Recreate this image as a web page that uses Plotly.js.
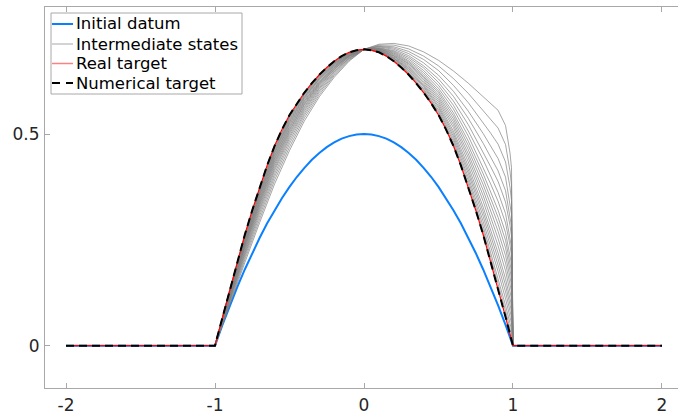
<!DOCTYPE html>
<html><head><meta charset="utf-8">
<script src="https://cdn.plot.ly/plotly-3.0.1.min.js"></script>
<style>html,body{margin:0;padding:0;overflow:hidden;background:#fff}#plot{width:690px;height:417px}</style>
</head><body><div id="plot"></div>
<script>
// ---- data ----
const xTicks = [-2, -1, 0, 1, 2];
const yTicks = [0, 0.5];
const legendNames = ['Initial datum', 'Intermediate states', 'Real target', 'Numerical target'];

const initialX = [-2, -1, -0.95, -0.9, -0.85, -0.8, -0.75, -0.7, -0.65, -0.6, -0.55, -0.5, -0.45, -0.4, -0.35, -0.3, -0.25, -0.2, -0.15, -0.1, -0.05, 0,
  0.05, 0.1, 0.15, 0.2, 0.25, 0.3, 0.35, 0.4, 0.45, 0.5, 0.55, 0.6, 0.65, 0.7, 0.75, 0.8, 0.85, 0.9, 0.95, 1, 2];
const initialY = [0, 0, 0.049, 0.095, 0.139, 0.18, 0.219, 0.255, 0.289, 0.32, 0.349, 0.375, 0.399, 0.42, 0.439, 0.455, 0.469, 0.48, 0.489, 0.495, 0.499, 0.5,
  0.499, 0.495, 0.489, 0.48, 0.469, 0.455, 0.439, 0.42, 0.399, 0.375, 0.349, 0.32, 0.289, 0.255, 0.219, 0.18, 0.139, 0.095, 0.049, 0, 0];

const targetX = [-2, -1, -0.99, -0.98, -0.95, -0.9, -0.85, -0.8, -0.75, -0.7, -0.65, -0.6, -0.55, -0.5, -0.45, -0.4, -0.35, -0.3, -0.25, -0.2, -0.15, -0.1, -0.05, 0,
  0.05, 0.1, 0.15, 0.2, 0.25, 0.3, 0.35, 0.4, 0.45, 0.5, 0.55, 0.6, 0.65, 0.7, 0.75, 0.8, 0.85, 0.9, 0.95, 0.98, 0.99, 1, 2];
const realTargetY = [0, 0, 0.014, 0.027, 0.068, 0.135, 0.199, 0.262, 0.320, 0.375, 0.426, 0.472, 0.511, 0.545, 0.573, 0.598, 0.620, 0.640, 0.657, 0.672, 0.684, 0.693, 0.698, 0.700,
  0.698, 0.693, 0.684, 0.672, 0.657, 0.640, 0.620, 0.598, 0.573, 0.545, 0.511, 0.472, 0.426, 0.375, 0.320, 0.262, 0.199, 0.135, 0.068, 0.027, 0.014, 0, 0];
const numericalTargetY = [0, 0, 0.014, 0.027, 0.068, 0.135, 0.199, 0.262, 0.320, 0.375, 0.426, 0.472, 0.511, 0.545, 0.573, 0.598, 0.620, 0.640, 0.657, 0.672, 0.684, 0.693, 0.698, 0.700,
  0.698, 0.693, 0.684, 0.672, 0.657, 0.640, 0.620, 0.598, 0.573, 0.545, 0.511, 0.472, 0.426, 0.375, 0.320, 0.262, 0.199, 0.135, 0.068, 0.027, 0.014, 0, 0];

const stateX = [-1, -0.95, -0.9, -0.8, -0.7, -0.6, -0.5, -0.4, -0.3, -0.2, -0.1, 0, 0.1, 0.2, 0.3, 0.4, 0.5, 0.6, 0.7, 0.8, 0.85, 0.9, 0.95, 0.98, 0.99, 1];
const intermediateY = [
  [0,.050,.097,.196,.291,.382,.461,.531,.588,.634,.672,.700,.712,.714,.708,.694,.674,.649,.620,.589,.573,.556,.520,.455,.420,0],
  [0,.052,.101,.203,.299,.391,.469,.538,.593,.638,.674,.700,.710,.710,.701,.684,.661,.631,.596,.556,.536,.514,.475,.412,.379,0],
  [0,.053,.104,.209,.307,.399,.477,.544,.598,.641,.676,.700,.708,.706,.695,.676,.650,.615,.574,.527,.502,.476,.434,.374,.343,0],
  [0,.055,.107,.214,.314,.406,.484,.549,.602,.644,.678,.700,.707,.703,.690,.668,.639,.601,.554,.501,.472,.442,.398,.339,.310,0],
  [0,.056,.110,.218,.320,.413,.490,.554,.606,.647,.679,.700,.706,.700,.685,.661,.630,.589,.537,.478,.446,.413,.366,.310,.282,0],
  [0,.057,.112,.222,.325,.418,.495,.558,.609,.649,.680,.700,.704,.697,.681,.656,.622,.578,.522,.458,.423,.388,.339,.284,.258,0],
  [0,.058,.115,.226,.330,.423,.500,.562,.612,.652,.682,.700,.703,.695,.677,.650,.615,.568,.507,.439,.401,.362,.312,.258,.233,0],
  [0,.059,.116,.230,.334,.428,.504,.565,.615,.653,.683,.700,.702,.693,.673,.645,.608,.559,.495,.422,.382,.341,.290,.237,.213,0],
  [0,.060,.118,.233,.338,.432,.508,.569,.617,.655,.684,.700,.701,.691,.670,.640,.602,.550,.483,.406,.364,.320,.267,.215,.193,0],
  [0,.061,.120,.236,.341,.436,.511,.571,.619,.657,.685,.700,.701,.689,.667,.636,.597,.543,.473,.393,.349,.303,.249,.198,.176,0],
  [0,.062,.121,.238,.345,.440,.515,.574,.621,.658,.685,.700,.700,.687,.665,.633,.591,.536,.463,.380,.334,.287,.231,.181,.160,0],
  [0,.062,.123,.241,.348,.443,.518,.577,.623,.660,.686,.700,.699,.685,.662,.629,.586,.529,.453,.367,.319,.270,.213,.164,.144,0],
  [0,.063,.124,.244,.352,.447,.522,.579,.625,.661,.687,.700,.698,.684,.659,.625,.581,.522,.444,.354,.304,.253,.195,.147,.128,0],
  [0,.064,.126,.246,.355,.450,.525,.582,.628,.663,.688,.700,.698,.682,.656,.621,.576,.515,.434,.341,.289,.236,.177,.130,.111,0],
  [0,.064,.127,.249,.358,.454,.528,.585,.630,.664,.689,.700,.697,.680,.654,.617,.571,.507,.424,.327,.274,.219,.158,.113,.095,0],
  [0,.065,.129,.251,.361,.457,.531,.587,.631,.666,.690,.700,.696,.679,.651,.614,.566,.501,.415,.316,.261,.205,.143,.098,.081,0],
  [0,.066,.130,.253,.364,.460,.534,.589,.633,.667,.690,.700,.696,.678,.649,.611,.562,.495,.407,.305,.248,.190,.127,.083,.067,0],
  [0,.066,.131,.256,.367,.463,.537,.592,.635,.668,.691,.700,.695,.676,.646,.607,.557,.489,.398,.293,.235,.175,.111,.068,.053,0],
  [0,.067,.133,.258,.370,.467,.540,.594,.637,.670,.692,.700,.694,.675,.644,.604,.553,.483,.390,.282,.221,.160,.095,.053,.038,0],
  [0,.068,.134,.260,.373,.469,.542,.596,.638,.671,.692,.700,.694,.673,.642,.601,.549,.477,.382,.272,.210,.148,.082,.040,.026,0]
];

// ---- traces ----
const traces = [];
traces.push({x: initialX, y: initialY, mode: 'lines', name: legendNames[0], showlegend: false,
  line: {color: '#0a7fff', width: 2}});
intermediateY.forEach((ys) => {
  traces.push({x: stateX, y: ys, mode: 'lines', name: legendNames[1], showlegend: false,
    line: {color: 'rgb(128,128,128)', width: 0.7}});
});
traces.push({x: targetX, y: realTargetY, mode: 'lines', name: legendNames[2], showlegend: false,
  line: {color: '#ff0000', width: 1.2}});
traces.push({x: targetX, y: numericalTargetY, mode: 'lines', name: legendNames[3], showlegend: false,
  line: {color: '#000000', width: 2, dash: '8px,5px'}});

// ---- hand-built legend (paper coords of the 645x381 plot area) ----
const PW = 645, PH = 381, PL = 45, PB = 388;
const px = v => (v - PL) / PW;
const py = v => (PB - v) / PH;
const rowY = [24, 44, 63.5, 83];
const sampleStyles = [
  {color: '#0a7fff', width: 2},
  {color: '#c4c4c4', width: 1.5},
  {color: '#ff8080', width: 1.5},
  {color: '#000000', width: 2, dash: '8px,6px'}
];
const shapes = [{type: 'rect', xref: 'paper', yref: 'paper', x0: px(51), x1: px(242), y0: py(94), y1: py(13),
  line: {color: '#a8a8a8', width: 1}, fillcolor: '#ffffff', layer: 'above'}];
const annotations = [];
legendNames.forEach((name, i) => {
  shapes.push({type: 'line', xref: 'paper', yref: 'paper', x0: px(52), x1: px(73), y0: py(rowY[i]), y1: py(rowY[i]),
    line: sampleStyles[i], layer: 'above'});
  annotations.push({xref: 'paper', yref: 'paper', x: px(74), y: py(rowY[i]), xanchor: 'left', yanchor: 'middle',
    showarrow: false, text: name, font: {family: 'DejaVu Sans', size: 16.5, color: '#000'}});
});

const axisCommon = {
  showgrid: false, zeroline: false, showline: true, linecolor: '#a8a8a8', linewidth: 1,
  mirror: 'ticks', ticks: 'inside', ticklen: 5, tickcolor: '#a8a8a8', tickwidth: 1,
  tickfont: {family: 'DejaVu Sans', size: 17, color: '#262626'}
};

const layout = {
  width: 690, height: 417,
  margin: {l: 45, r: 0, t: 7, b: 29},
  paper_bgcolor: '#fff', plot_bgcolor: '#fff',
  showlegend: false,
  xaxis: Object.assign({}, axisCommon, {range: [-2.141, 2.188], tickvals: xTicks, ticktext: xTicks.map(String), ticklabelstandoff: 2}),
  yaxis: Object.assign({}, axisCommon, {range: [-0.1, 0.8], tickvals: yTicks, ticktext: yTicks.map(String), ticklabelstandoff: 1}),
  shapes: shapes,
  annotations: annotations
};

Plotly.newPlot('plot', traces, layout, {displayModeBar: false, staticPlot: true});
</script></body></html>
